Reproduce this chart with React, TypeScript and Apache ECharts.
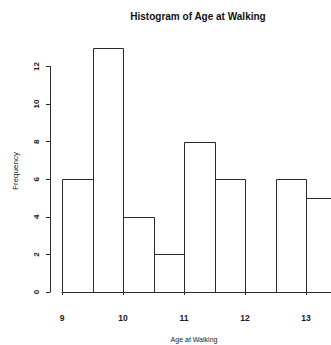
import React, { useEffect, useRef } from "react";
import * as echarts from "echarts";

const binStarts = [9, 9.5, 10, 10.5, 11, 11.5, 12, 12.5, 13];
const binWidth = 0.5;
const counts = [6, 13, 4, 2, 8, 6, 0, 6, 5];
const xTicks = [9, 10, 11, 12, 13];
const yTicks = [0, 2, 4, 6, 8, 10, 12];
const title = "Histogram of Age at Walking";
const xTitle = "Age at Walking";
const yTitle = "Frequency";

export default function App() {
  const ref = useRef<HTMLDivElement>(null);
  useEffect(() => {
    if (!ref.current) return;
    const chart = echarts.init(ref.current, null, { renderer: "svg" });
    const data = binStarts.map((s, i) => [s, s + binWidth, counts[i]]);
    const font = "'Liberation Sans', Arial, sans-serif";
    const ink = "#2a2a2a";
    chart.setOption({
      animation: false,
      backgroundColor: "#ffffff",
      grid: [
        { left: 62, top: 29.2, width: 274.5, height: 262.8, outerBoundsMode: "none" },
        { left: 62, top: 66.5, width: 244, height: 225.5, outerBoundsMode: "none" },
      ],
      xAxis: [
        { type: "value", gridIndex: 0, min: 9, max: 13.5, show: false },
        {
          type: "value",
          gridIndex: 1,
          min: xTicks[0],
          max: xTicks[xTicks.length - 1],
          interval: 1,
          offset: 11,
          axisLine: { show: true, lineStyle: { color: ink, width: 1 } },
          axisTick: { show: true, length: 3, lineStyle: { color: ink } },
          splitLine: { show: false },
          axisLabel: { color: "#1a1a1a", fontSize: 8.5, fontWeight: "bold", fontFamily: font, margin: 10 },
        },
      ],
      yAxis: [
        { type: "value", gridIndex: 0, min: 0, max: 14, show: false },
        {
          type: "value",
          gridIndex: 1,
          min: yTicks[0],
          max: yTicks[yTicks.length - 1],
          interval: 2,
          offset: 12,
          axisLine: { show: true, lineStyle: { color: ink, width: 1 } },
          axisTick: { show: true, length: 4, lineStyle: { color: ink } },
          splitLine: { show: false },
          axisLabel: { color: "#1a1a1a", fontSize: 8, fontWeight: "bold", fontFamily: font, rotate: 90, margin: 10 },
        },
      ],
      series: [
        {
          type: "custom",
          xAxisIndex: 0,
          yAxisIndex: 0,
          data,
          clip: false,
          renderItem: (params: any, api: any) => {
            const p0 = api.coord([api.value(0), 0]);
            const p1 = api.coord([api.value(1), api.value(2)]);
            const x0 = Math.round(p0[0]) + 0.5;
            const x1 = Math.round(p1[0]) + 0.5;
            const y0 = Math.round(p0[1]) + 0.5;
            const y1 = Math.round(p1[1]) + 0.5;
            return {
              type: "rect",
              shape: { x: x0, y: y1, width: x1 - x0, height: y0 - y1 },
              style: { fill: "#ffffff", stroke: ink, lineWidth: 1 },
            };
          },
        },
      ],
      graphic: [
        {
          type: "text",
          x: 198,
          y: 16,
          style: {
            text: title,
            fontSize: 10,
            fontWeight: "bold",
            fontFamily: font,
            fill: "#111111",
            align: "center",
            verticalAlign: "middle",
          },
        },
        {
          type: "text",
          x: 194,
          y: 339,
          style: {
            text: xTitle,
            fontSize: 7,
            fontFamily: font,
            fill: "#1a1a1a",
            align: "center",
            verticalAlign: "middle",
          },
        },
        {
          type: "text",
          x: 15,
          y: 171,
          rotation: Math.PI / 2,
          style: {
            text: yTitle,
            fontSize: 8,
            fontFamily: font,
            fill: "#1a1a1a",
            align: "center",
            verticalAlign: "middle",
          },
        },
      ],
    });
    return () => chart.dispose();
  }, []);
  return (
    <div
      ref={ref}
      style={{ position: "fixed", left: 0, top: 0, width: 331, height: 345 }}
    />
  );
}
